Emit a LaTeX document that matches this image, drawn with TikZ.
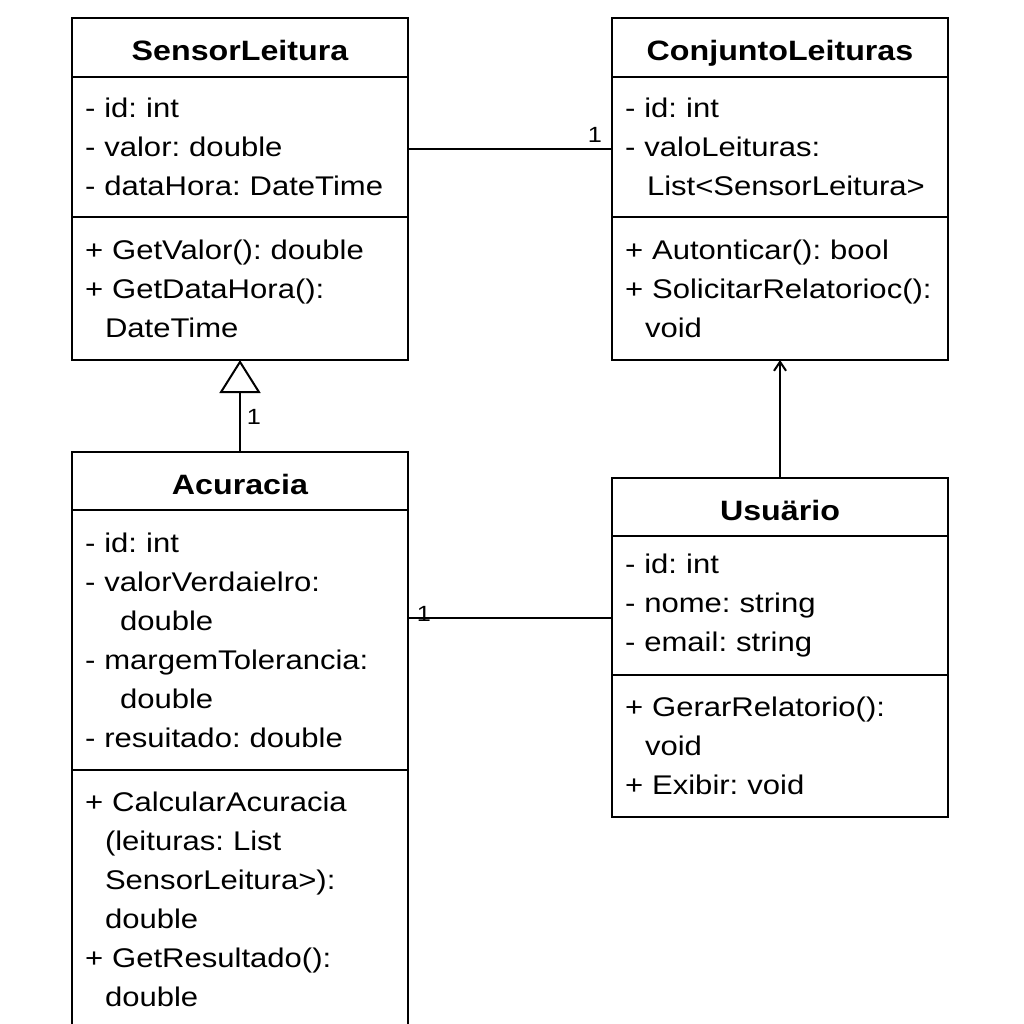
\documentclass[tikz,border=0pt]{standalone}
\usepackage{fontspec}
\setmainfont{Liberation Sans}[FakeStretch=1.15]
\usetikzlibrary{positioning,arrows.meta}
\frenchspacing

\tikzset{
  classname/.style={draw, line width=2.8pt, outer sep=0pt, minimum width=336pt,
    minimum height=59pt, text height=26pt, text depth=0pt,
    font=\fontsize{28}{39}\selectfont\bfseries},
  compart/.style={draw, line width=2.8pt, outer sep=0pt, text width=310pt,
    inner xsep=13pt, inner ysep=0pt, align=left,
    font=\fontsize{27}{39}\selectfont},
  link/.style={line width=2pt},
  mult/.style={font=\fontsize{22}{22}\selectfont, inner sep=1pt},
}

\begin{document}
\begin{tikzpicture}[x=1pt, y=-1pt]
    \useasboundingbox (0,0) rectangle (1024,1024);
    \clip (0,0) rectangle (1024,1024);
    % SensorLeitura
    \node[classname, anchor=north west] (sl) at (72,18) {SensorLeitura};
    \node[compart, below=0pt of sl, minimum height=140pt] (sla) {- id: int\\- valor: double\\- dataHora: DateTime};
    \node[compart, below=0pt of sla, minimum height=143pt] (slm) {+ GetValor(): double\\+ GetDataHora():\\\hspace*{20pt}DateTime};
    % ConjuntoLeituras
    \node[classname, anchor=north west] (cl) at (612,18) {ConjuntoLeituras};
    \node[compart, below=0pt of cl, minimum height=140pt] (cla) {- id: int\\- valoLeituras:\\\hspace*{22pt}List<SensorLeitura>};
    \node[compart, below=0pt of cla, minimum height=143pt] (clm) {+ Autonticar(): bool\\+~SolicitarRelatorioc():\\\hspace*{20pt}void};
    % Acuracia
    \node[classname, anchor=north west, minimum height=58pt] (ac) at (72,452) {Acuracia};
    \node[compart, below=0pt of ac, minimum height=260pt] (aca) {- id: int\\- valorVerdaielro:\\\hspace*{35pt}double\\- margemTolerancia:\\\hspace*{35pt}double\\- resuitado: double};
    \node[compart, below=0pt of aca, minimum height=259pt] (acm) {+ CalcularAcuracia\\\hspace*{20pt}(leituras: List\\\hspace*{20pt}SensorLeitura>):\\\hspace*{20pt}double\\+ GetResultado():\\\hspace*{20pt}double};
    % Usuario
    \node[classname, anchor=north west, minimum height=58pt] (us) at (612,478) {Usuärio};
    \node[compart, below=0pt of us, minimum height=139pt] (usa) {- id: int\\- nome: string\\- email: string};
    \node[compart, below=0pt of usa, minimum height=142pt] (usm) {+ GerarRelatorio():\\\hspace*{20pt}void\\+ Exibir: void};
    % ligacoes
    \draw[link] ([yshift=-2pt]sla.east) -- ([yshift=-2pt]cla.west);
    \node[mult] (m1) at (595,135) {1};
    \draw[link, -{Triangle[open, width=41pt, length=33pt]}] (ac.north) -- (slm.south);
    \node[mult] (m2) at (254,417) {1};
    \coordinate (ul) at ([yshift=-12.5pt]usa.west);
    \draw[link] (ul) -- (ul -| aca.east);
    \node[mult] (m3) at (424,614) {1};
    \draw[link, -{Straight Barb[length=9pt, width=12pt]}] (us.north) -- (clm.south);
\end{tikzpicture}
\end{document}
